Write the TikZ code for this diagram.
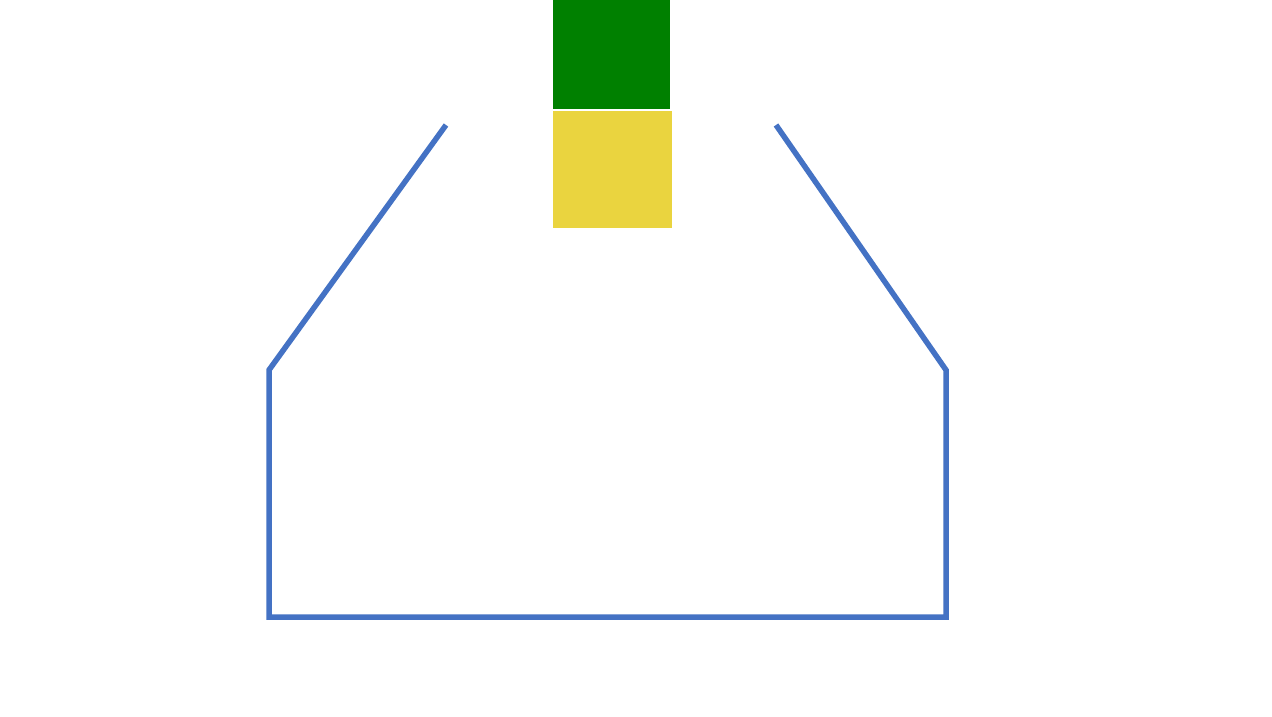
\documentclass[tikz,border=0pt]{standalone}
\usepackage{tikz}
\usetikzlibrary{positioning}

\definecolor{funnelblue}{HTML}{4472C4}
\definecolor{blockgreen}{HTML}{008000}
\definecolor{blockyellow}{HTML}{EAD43F}

\begin{document}
\begin{tikzpicture}[x=1pt, y=-1pt]
    % frame
    \useasboundingbox[fill=white] (0,0) rectangle (1272,716);

    % blocks
    \fill[blockgreen] (553,0) rectangle (670,109);
    \fill[blockyellow] (553,111) rectangle (672,228);

    % funnel
    \draw [funnelblue, line width=5.5pt, line join=miter]
    (446,125) -- (269,370) -- (269,617) --
    (946,617) -- (946,370) -- (776,125);
  \end{tikzpicture}
\end{document}
